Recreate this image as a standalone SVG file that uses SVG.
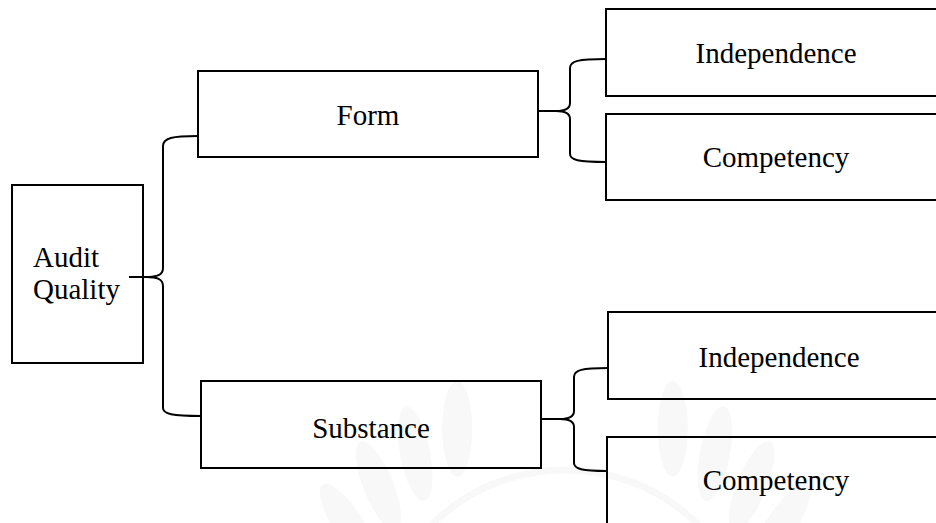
<svg xmlns="http://www.w3.org/2000/svg" width="936" height="523" viewBox="0 0 936 523">
  <style>
    .box { fill: none; stroke: #000000; stroke-width: 2; }
    .lbl { font-family: "Liberation Serif", "Times New Roman", serif; font-size: 29px; fill: #000000; }
    .mid { text-anchor: middle; }
    .brace { fill: none; stroke: #000000; stroke-width: 2; }
    .leaf { fill: #ededed; opacity: 0.4; }
    .ring { fill: none; stroke: #ededed; stroke-width: 7; opacity: 0.4; }
  </style>
  <defs>
    <ellipse id="leaf" cx="0" cy="0" rx="15" ry="48"/>
  </defs>

  <rect width="936" height="523" fill="#ffffff"/>

  <!-- faint seal in the background -->
  <g id="seal">
    <g transform="translate(565,660)">
      <use href="#leaf" class="leaf" transform="rotate(-80) translate(0,-255) rotate(25)"/>
      <use href="#leaf" class="leaf" transform="rotate(-69) translate(0,-255) rotate(25)"/>
      <use href="#leaf" class="leaf" transform="rotate(-58) translate(0,-255) rotate(25)"/>
      <use href="#leaf" class="leaf" transform="rotate(-47) translate(0,-255) rotate(25)"/>
      <use href="#leaf" class="leaf" transform="rotate(-36) translate(0,-255) rotate(25)"/>
      <use href="#leaf" class="leaf" transform="rotate(-25) translate(0,-255) rotate(25)"/>
      <use href="#leaf" class="leaf" transform="rotate(25) translate(0,-255) rotate(-25)"/>
      <use href="#leaf" class="leaf" transform="rotate(36) translate(0,-255) rotate(-25)"/>
      <use href="#leaf" class="leaf" transform="rotate(47) translate(0,-255) rotate(-25)"/>
      <use href="#leaf" class="leaf" transform="rotate(58) translate(0,-255) rotate(-25)"/>
      <use href="#leaf" class="leaf" transform="rotate(69) translate(0,-255) rotate(-25)"/>
      <use href="#leaf" class="leaf" transform="rotate(80) translate(0,-255) rotate(-25)"/>
      <circle class="ring" cx="0" cy="0" r="190"/>
    </g>
  </g>

  <!-- connectors: curly brackets and stubs -->
  <g id="connectors">
    <path class="brace" d="M129,277 H147"/>
    <path class="brace" d="M198,136 C172,136 163,138 163,146 V268 C163,275 157,277 146,277"/>
    <path class="brace" d="M146,277 C157,277 163,279 163,286 V408 C163,414 172,416 201,416"/>

    <path class="brace" d="M538,111 H556"/>
    <path class="brace" d="M606,59 C578,59 570,61 570,68 V103 C570,109 565,111 556,111"/>
    <path class="brace" d="M556,111 C565,111 570,113 570,119 V154 C570,160 578,162 606,162"/>

    <path class="brace" d="M541,419 H560"/>
    <path class="brace" d="M608,368 C582,368 574,370 574,377 V411 C574,417 569,419 560,419"/>
    <path class="brace" d="M560,419 C569,419 574,421 574,427 V463 C574,469 582,471 607,471"/>
  </g>

  <g id="audit-quality">
    <rect class="box" x="12" y="185" width="131" height="178"/>
    <text class="lbl" x="33" y="267">Audit</text>
    <text class="lbl" x="33" y="299">Quality</text>
  </g>

  <g id="form">
    <rect class="box" x="198" y="71" width="340" height="86"/>
    <text class="lbl mid" x="368" y="125">Form</text>
  </g>

  <g id="form-independence">
    <rect class="box" x="606" y="9" width="340" height="87"/>
    <text class="lbl mid" x="776" y="63">Independence</text>
  </g>

  <g id="form-competency">
    <rect class="box" x="606" y="114" width="340" height="86"/>
    <text class="lbl mid" x="776" y="167">Competency</text>
  </g>

  <g id="substance">
    <rect class="box" x="201" y="381" width="340" height="87"/>
    <text class="lbl mid" x="371" y="438">Substance</text>
  </g>

  <g id="substance-independence">
    <rect class="box" x="608" y="312" width="340" height="87"/>
    <text class="lbl mid" x="779" y="367">Independence</text>
  </g>

  <g id="substance-competency">
    <rect class="box" x="607" y="437" width="340" height="100"/>
    <text class="lbl mid" x="776" y="490">Competency</text>
  </g>
</svg>
